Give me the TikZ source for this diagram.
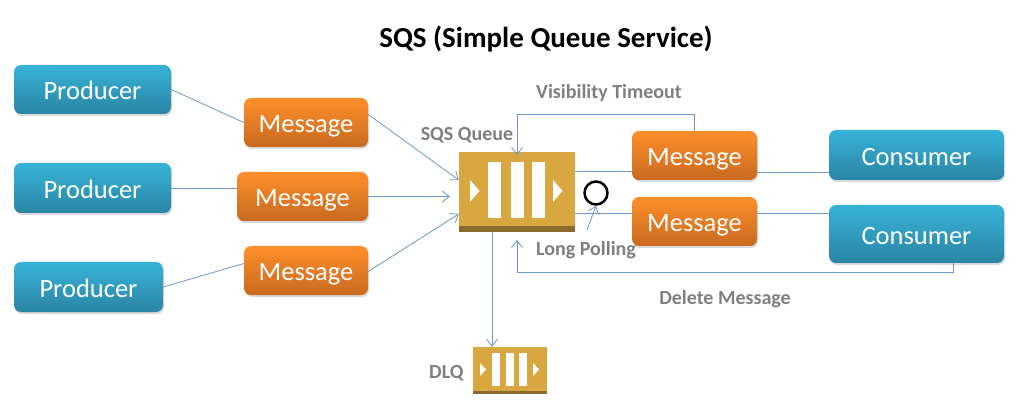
\documentclass[tikz,border=0pt]{standalone}
\usepackage{fontspec}
\setmainfont{Carlito}
\usetikzlibrary{arrows.meta,positioning,shadows}
\definecolor{BoxBlueTop}{RGB}{55, 179, 216}
\definecolor{BoxBlueMid}{RGB}{50, 165, 200}
\definecolor{BoxBlueLow}{RGB}{42, 133, 165}
\definecolor{BoxOrangeTop}{RGB}{255, 143, 43}
\definecolor{BoxOrangeMid}{RGB}{240, 130, 38}
\definecolor{BoxOrangeLow}{RGB}{200, 105, 30}
\definecolor{QueueGold}{RGB}{217, 167, 63}
\definecolor{QueueBand}{RGB}{138, 107, 44}
\definecolor{LinkBlue}{RGB}{108, 150, 206}
\definecolor{NoteGray}{RGB}{127, 127, 127}

\begin{document}
\begin{tikzpicture}[
    x=1pt, y=-1pt,
    box/.style={rectangle, rounded corners=7pt, inner sep=0pt, align=center, text=white, text height=20.5pt, text depth=0pt, font=\fontsize{26.5}{28}\selectfont, drop shadow={shadow xshift=1pt, shadow yshift=-2pt, opacity=0.3}},
    bluebox/.style={box, top color=BoxBlueTop, middle color=BoxBlueMid, bottom color=BoxBlueLow},
    orangebox/.style={box, top color=BoxOrangeTop, middle color=BoxOrangeMid, bottom color=BoxOrangeLow},
    queue/.style={rectangle, fill=QueueGold, inner sep=0pt},
    note/.style={text=NoteGray, font=\fontsize{20}{22}\selectfont\bfseries, inner sep=0pt},
    link/.style={draw=LinkBlue, line width=0.8pt},
    arrow/.style={link, -{Straight Barb[length=7pt,width=11pt]}}
  ]
    \useasboundingbox (0,0) rectangle (1024,411);
    \node[font=\fontsize{29}{32}\selectfont\bfseries, inner sep=0pt] (title) at (546,39) {SQS (Simple Queue Service)};

    \node[bluebox, minimum width=157pt, minimum height=49pt] (producerA) at (92.5,89.5) {Producer};
    \node[bluebox, minimum width=157pt, minimum height=50pt] (producerB) at (92.5,188) {Producer};
    \node[bluebox, minimum width=149pt, minimum height=50pt] (producerC) at (88.5,287) {Producer};

    \node[orangebox, minimum width=124pt, minimum height=49pt] (messageA) at (306,122.5) {Message};
    \node[orangebox, minimum width=131pt, minimum height=49pt] (messageB) at (302.5,196.5) {Message};
    \node[orangebox, minimum width=124pt, minimum height=49pt] (messageC) at (306,270.5) {Message};
    \node[orangebox, minimum width=125pt, minimum height=49pt] (messageD) at (694.5,155.5) {Message};
    \node[orangebox, minimum width=125pt, minimum height=49pt] (messageE) at (694.5,221.5) {Message};

    \node[bluebox, minimum width=175pt, minimum height=50pt] (consumerA) at (916.5,155) {Consumer};
    \node[bluebox, minimum width=175pt, minimum height=58pt] (consumerB) at (916.5,234) {Consumer};

    % queue icons
    \node[queue, minimum width=116pt, minimum height=80pt] (sqs) at (517,192) {};
    \fill[QueueBand] (459,226) rectangle (575,232);
    \foreach \barx in {488,511,532}
      \fill[white] (\barx,162) rectangle (\barx+12.5,218);
    \foreach \tipx in {470,553}
      \fill[white] (\tipx,180) -- (\tipx+9.5,191) -- (\tipx,202) -- cycle;

    \node[queue, minimum width=74pt, minimum height=47pt] (dlq) at (510,370.5) {};
    \fill[QueueBand] (473,391) rectangle (547,394);
    \foreach \barx in {492,506,519}
      \fill[white] (\barx,353) rectangle (\barx+8,386);
    \foreach \tipx in {480,533}
      \fill[white] (\tipx,363) -- (\tipx+6,369.5) -- (\tipx,376) -- cycle;

    \node[circle, draw=black, line width=2.5pt, fill=white, minimum size=23pt, inner sep=0pt] (poll) at (596,193) {};

    \node[note] (visibility) at (609,93) {Visibility Timeout};
    \node[note] (sqslabel) at (467,135) {SQS Queue};
    \node[note] (longpoll) at (586,250) {Long Polling};
    \node[note] (deletemsg) at (725,299) {Delete Message};
    \node[note, left=9pt of dlq, yshift=-2.5pt] (dlqlabel) {DLQ};

    \coordinate (visCorner) at (517,114);
    \coordinate (visEnd) at (517,155);
    \coordinate (delCorner) at (517,272);
    \coordinate (delEnd) at (517,240);
    \coordinate (delStart) at (953,263);
    \coordinate (pollStart) at (587,230);

    \draw[link] (producerA.east) -- (messageA.west);
    \draw[link] (producerB.east) -- (producerB.east -| messageB.west);
    \draw[link] (producerC.east) -- ([yshift=7pt]messageC.west);
    \draw[arrow] ([yshift=8pt]messageA.east) -- ([yshift=12pt]sqs.west);
    \draw[arrow, shorten >=9pt] (messageB.east) -- (messageB.east -| sqs.west);
    \draw[arrow] ([yshift=-1pt]messageC.east) -- ([yshift=-22pt]sqs.west);

    \draw[link] ([yshift=21pt]sqs.east) -- ([yshift=21pt]sqs.east -| messageD.west);
    \draw[link] ([yshift=-21pt]sqs.east) -- ([yshift=-21pt]sqs.east -| messageE.west);
    \draw[link] ([yshift=-16.5pt]messageD.east) -- ([yshift=-16.5pt]messageD.east -| consumerA.west);
    \draw[link] ([yshift=8.5pt]messageE.east) -- ([yshift=8.5pt]messageE.east -| consumerB.west);

    \draw[arrow] (messageD.north) |- (visCorner) -- (visEnd);
    \draw[arrow] (delStart) |- (delCorner) -- (delEnd);
    \draw[arrow] (sqs.south -| 492,0) -- (dlq.north -| 492,0);
    \draw[arrow] (pollStart) -- (poll.south);
  \end{tikzpicture}
\end{document}
